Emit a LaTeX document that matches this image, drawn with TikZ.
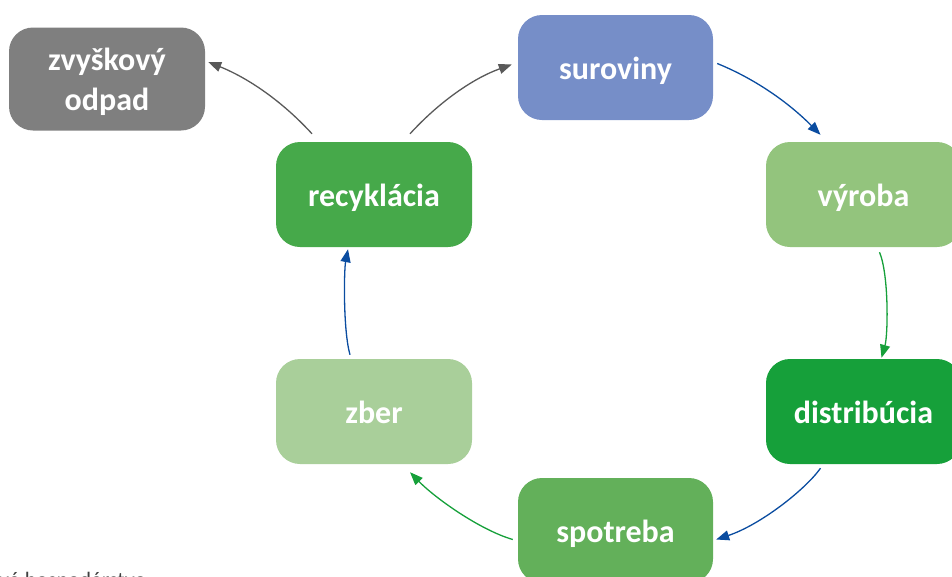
\documentclass[tikz,border=0pt]{standalone}
\usepackage{fontspec}
\setmainfont{Carlito}
\usetikzlibrary{arrows.meta,calc}
\definecolor{cGray}{RGB}{127,127,127}
\definecolor{cBlue}{RGB}{118,142,200}
\definecolor{cLight}{RGB}{147,196,125}
\definecolor{cDark}{RGB}{22,160,58}
\definecolor{cMid}{RGB}{99,176,90}
\definecolor{cPale}{RGB}{169,207,154}
\definecolor{cRec}{RGB}{70,169,74}
\definecolor{aBlue}{RGB}{10,76,160}
\definecolor{aGreen}{RGB}{22,160,58}
\definecolor{aGray}{RGB}{89,89,89}
\definecolor{txt}{RGB}{64,64,64}
\begin{document}
\begin{tikzpicture}[x=1pt,y=-1pt,
  box/.style={rounded corners=24pt, minimum width=195pt, minimum height=105pt,
    text=white, font=\bfseries\fontsize{32}{40}\selectfont, align=center, inner sep=0pt},
  one/.style={box, text height=23pt, text depth=0pt},
  conn/.style={line width=1.3pt, -{Triangle[length=13pt,width=10pt]}}]
\useasboundingbox (0,0) rectangle (952,576);
\node[box, fill=cGray, minimum width=196pt, minimum height=103pt] (odpad) at (107,79) {};
\node[text=white, font=\bfseries\fontsize{32}{40}\selectfont, align=center, inner sep=0pt] (odpadtxt) at ($(odpad.center)+(0,3)$) {zvyškový\\odpad};
\node[one, fill=cBlue] (suroviny) at (615.5,67.5) {suroviny};
\node[one, fill=cLight] (vyroba) at (863.5,194.5) {výroba};
\node[one, fill=cDark] (distribucia) at (863.5,411.5) {distribúcia};
\node[one, fill=cMid] (spotreba) at (615.5,530.5) {spotreba};
\node[one, fill=cPale, minimum width=196pt] (zber) at (374,411.5) {zber};
\node[one, fill=cRec, minimum width=196pt] (recyklacia) at (374,194.5) {recyklácia};
\node[anchor=base west, inner sep=0pt, text=txt, font=\fontsize{22}{26}\selectfont] (foot) at (-1,587) {vé hospodárstvo};
% connectors
\draw[conn, aBlue] ($(suroviny.east)+(4,-4)$) .. controls (753,78) and (787,101) .. ($(vyroba.north)+(-43,-7)$);
\draw[conn, aGreen] ($(vyroba.south)+(16,5)$) .. controls (889,275) and (888,335) .. ($(distribucia.north)+(18,-1)$);
\draw[conn, aBlue] ($(distribucia.south)+(-43,4)$) .. controls (805,490) and (760,525) .. ($(spotreba.east)+(3,9)$);
\draw[conn, aGreen] ($(spotreba.west)+(-5,9)$) .. controls (480,530) and (435,498) .. ($(zber.south)+(36,8)$);
\draw[conn, aBlue] ($(zber.north)+(-24,-4)$) .. controls (343,330) and (344,270) .. ($(recyklacia.south)+(-26,2)$);
\draw[conn, aGray] ($(recyklacia.north)+(36,-8)$) .. controls (440,101) and (474,78) .. ($(suroviny.west)+(-6,-3)$);
\draw[conn, aGray] ($(recyklacia.north)+(-62,-8)$) .. controls (282,101) and (248,78) .. ($(odpad.east)+(3,-17)$);
\end{tikzpicture}
\end{document}
